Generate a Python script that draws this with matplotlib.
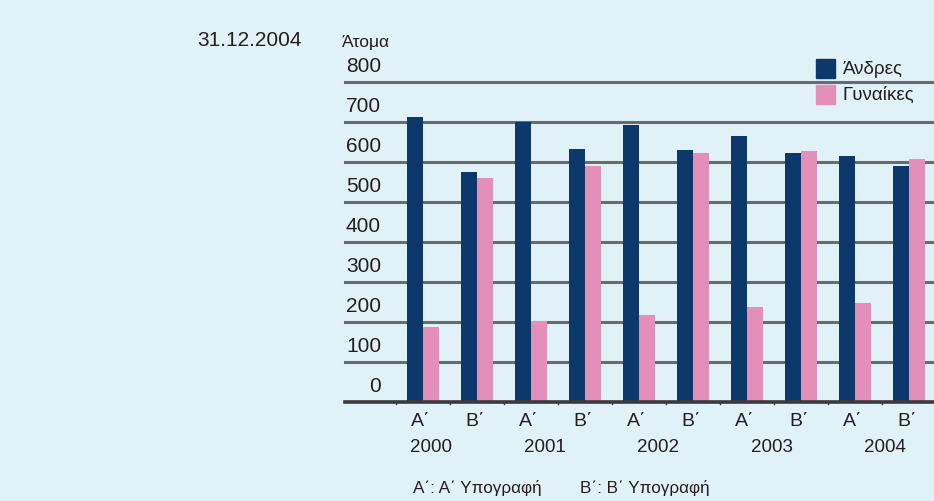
import matplotlib
matplotlib.use("Agg")
import matplotlib.pyplot as plt
import numpy as np

# values (persons, 31.12.2004)
periods = ["Α΄", "Β΄"] * 5
years = ["2000", "2001", "2002", "2003", "2004"]
men = [712, 574, 699, 632, 692, 629, 664, 622, 614, 589]
women = [187, 559, 202, 589, 217, 622, 237, 627, 247, 606]
yticks = [0, 100, 200, 300, 400, 500, 600, 700, 800]

BG = "#E1F1F8"
NAVY = "#0D386C"
PINK = "#E48EBA"
TXT = "#231F20"

plt.rcParams['font.family'] = ['Liberation Sans', 'DejaVu Sans']

W, H = 934, 501
fig = plt.figure(figsize=(W / 100, H / 100), dpi=100, facecolor=BG)

# axes placed in pixels: left 345, right 934, zero at y=401.7, 800 at y=81.5
ax = fig.add_axes([345 / W, (H - 401.7) / H, (934 - 345) / W, (401.7 - 81.5) / H])
ax.set_facecolor(BG)

x = np.arange(len(men))
w = 0.296
ax.bar(x - w / 2, men, w, color=NAVY, zorder=3, label="Άνδρες")
ax.bar(x + w / 2, women, w, color=PINK, zorder=3, label="Γυναίκες")

ax.set_xlim(-1.444, 9.463)
ax.set_ylim(0, 800)

for v in yticks[1:]:
    ax.axhline(v, color="#6A6B6D", lw=2.2, zorder=1, clip_on=False)
ax.axhline(0, color="#3A3A3C", lw=2.6, zorder=4, clip_on=False)

for s in ax.spines.values():
    s.set_visible(False)
ax.set_yticks([])
ax.set_xticks([])

# y labels sit above each gridline, right aligned
for v in yticks:
    ax.annotate(str(v), xy=(381 / W, v), xycoords=("figure fraction", "data"),
                xytext=(0, 4), textcoords="offset points",
                ha="right", va="bottom", fontsize=15, color=TXT)

# small ticks between groups on the baseline
for b in np.arange(-0.5, len(men), 1.0):
    ax.plot([b, b], [0, -5], color="#3A3A3C", lw=1, clip_on=False, zorder=4)

for i, p in enumerate(periods):
    ax.text(i - 0.04, -27, p, ha="center", va="top", fontsize=14, color=TXT)

year_pos = [0.148 + 2.102 * k for k in range(len(years))]
for xp, yr in zip(year_pos, years):
    ax.text(xp, -94, yr, ha="center", va="top", fontsize=13.5, color=TXT)

fig.text(197 / W, 1 - 41 / H, "31.12.2004", fontsize=15, color=TXT, va="center",
         family=['Liberation Sans Narrow', 'Liberation Sans', 'DejaVu Sans'])
fig.text(342 / W, 1 - 42 / H, "Άτομα", fontsize=12.5, color=TXT, va="center")

# legend
fig.patches.append(plt.Rectangle((816 / W, 1 - 78 / H), 19 / W, 19 / H,
                                 transform=fig.transFigure, color=NAVY))
fig.patches.append(plt.Rectangle((816 / W, 1 - 104 / H), 19 / W, 19 / H,
                                 transform=fig.transFigure, color=PINK))
fig.text(843 / W, 1 - 69 / H, "Άνδρες", fontsize=13.5, color=TXT, va="center")
fig.text(843 / W, 1 - 95 / H, "Γυναίκες", fontsize=13.5, color=TXT, va="center")

fig.text(413 / W, 1 - 488 / H, "Α΄: Α΄ Υπογραφή", fontsize=12.3, color=TXT, va="center")
fig.text(580 / W, 1 - 488 / H, "Β΄: Β΄ Υπογραφή", fontsize=12.3, color=TXT, va="center")

fig.savefig("out.png", dpi=100, facecolor=BG)
